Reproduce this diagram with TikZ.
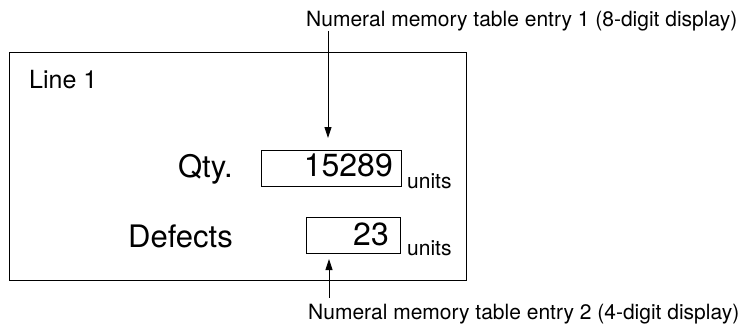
\documentclass[tikz,border=0pt]{standalone}
\usepackage{fontspec}
\setmainfont{TeX Gyre Heros}
\usetikzlibrary{arrows.meta}

\begin{document}
\begin{tikzpicture}[
          x=1pt, y=-1pt,
          panel/.style={draw, line width=1.4pt, minimum width=457pt,
                        minimum height=228pt, anchor=north west},
          field/.style={draw, line width=0.9pt, minimum height=36pt,
                        anchor=north west},
          big/.style={font=\fontsize{31}{34}\selectfont, inner sep=0pt},
          digit/.style={font=\fontsize{32}{35}\selectfont, inner sep=0pt,
                        anchor=base east},
          head/.style={font=\fontsize{25}{28}\selectfont, inner sep=0pt},
          unit/.style={font=\fontsize{21}{24}\selectfont, inner sep=0pt,
                       anchor=base west},
          note/.style={font=\fontsize{21}{24}\selectfont, inner sep=0pt,
                       anchor=base west},
          arr/.style={-{Triangle[length=11pt, width=7pt]}, line width=0.9pt}
        ]
          \useasboundingbox (0,0) rectangle (746,325);
          \node[panel] (P) at (9,52) {};
          \node[head, anchor=base west] (L) at (29,88) {Line 1};
          \node[big, anchor=base east] (Q) at (233,177) {Qty.};
          \node[big, anchor=base east] (D) at (233,247) {Defects};
          \node[field, minimum width=140pt] (QB) at (261,150) {};
          \node[field, minimum width=94pt] (DB) at (306,217) {};
          \node[digit] (QV) at (393,176) {15289};
          \node[digit] (DV) at (389,245) {23};
          \node[unit] (QU) at (407,188) {units};
          \node[unit] (DU) at (407,255) {units};
          \node[note] (T1) at (306,26) {Numeral memory table entry 1 (8-digit display)};
          \node[note] (T2) at (308,319) {Numeral memory table entry 2 (4-digit display)};
          \coordinate (A1) at (328,138);
          \coordinate (A2) at (329,259);
          \draw[arr] (T1.south -| A1) -- (A1);
          \draw[arr] ([yshift=6pt]T2.north -| A2) -- (A2);
        \end{tikzpicture}
\end{document}
